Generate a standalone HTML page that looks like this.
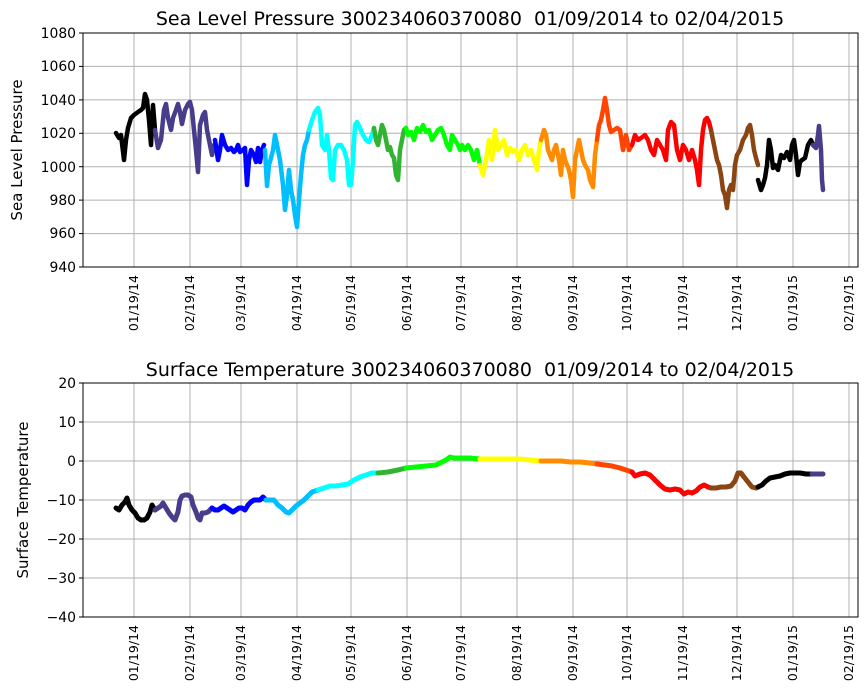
<!DOCTYPE html>
<html><head><meta charset="utf-8"><style>body{margin:0;background:#fff}svg{display:block}text{font-family:"DejaVu Sans","Liberation Sans",sans-serif;fill:#000}</style></head>
<body>
<svg width="868" height="700" viewBox="0 0 868 700" xmlns="http://www.w3.org/2000/svg">
<g stroke="#b0b0b0" stroke-width="1">
<line x1="83" x2="858" y1="66.4" y2="66.4"/><line x1="83" x2="858" y1="99.9" y2="99.9"/><line x1="83" x2="858" y1="133.3" y2="133.3"/><line x1="83" x2="858" y1="166.7" y2="166.7"/><line x1="83" x2="858" y1="200.1" y2="200.1"/><line x1="83" x2="858" y1="233.6" y2="233.6"/>
<line x1="83" x2="858" y1="422" y2="422"/><line x1="83" x2="858" y1="461" y2="461"/><line x1="83" x2="858" y1="500" y2="500"/><line x1="83" x2="858" y1="539" y2="539"/><line x1="83" x2="858" y1="578" y2="578"/>
</g>
<g stroke="#b0b0b0" stroke-width="1">
<line x1="134" x2="134" y1="33" y2="267"/><line x1="190" x2="190" y1="33" y2="267"/><line x1="241" x2="241" y1="33" y2="267"/><line x1="297" x2="297" y1="33" y2="267"/><line x1="351" x2="351" y1="33" y2="267"/><line x1="407" x2="407" y1="33" y2="267"/><line x1="461" x2="461" y1="33" y2="267"/><line x1="517" x2="517" y1="33" y2="267"/><line x1="573" x2="573" y1="33" y2="267"/><line x1="627" x2="627" y1="33" y2="267"/><line x1="683" x2="683" y1="33" y2="267"/><line x1="737" x2="737" y1="33" y2="267"/><line x1="793" x2="793" y1="33" y2="267"/><line x1="849" x2="849" y1="33" y2="267"/>
<line x1="134" x2="134" y1="383" y2="617"/><line x1="190" x2="190" y1="383" y2="617"/><line x1="241" x2="241" y1="383" y2="617"/><line x1="297" x2="297" y1="383" y2="617"/><line x1="351" x2="351" y1="383" y2="617"/><line x1="407" x2="407" y1="383" y2="617"/><line x1="461" x2="461" y1="383" y2="617"/><line x1="517" x2="517" y1="383" y2="617"/><line x1="573" x2="573" y1="383" y2="617"/><line x1="627" x2="627" y1="383" y2="617"/><line x1="683" x2="683" y1="383" y2="617"/><line x1="737" x2="737" y1="383" y2="617"/><line x1="793" x2="793" y1="383" y2="617"/><line x1="849" x2="849" y1="383" y2="617"/>
</g>
<g fill="none" stroke-width="4.5" stroke-linejoin="round" stroke-linecap="round">
<polyline stroke="#000" points="116,133 119,138 121,135 124,160 126,140 128,128 131,118 134,115 138,112 141,110 143,108 145,94 147,100 149,120 151,145 153,105 155,130"/>
<polyline stroke="#483d8b" points="155,130 158,148 161,140 164,110 166,104 168,118 171,130 173,118 176,110 178,104 180,112 182,124 185,110 188,104 190,102 192,110 194,130 196,150 198,172 200,125 203,115 205,112 207,130 209,140 212,155 214,145"/>
<polyline stroke="#0000ff" points="215,140 218,160 220,150 222,135 225,145 228,150 231,148 234,152 236,150 238,145 240,152 243,150 245,148 247,185 249,160 251,150 254,155 256,162 258,148 260,162 262,150 264,145"/>
<polyline stroke="#00bfff" points="265,150 267,186 269,165 271,158 273,150 275,135 277,145 280,160 283,185 285,210 287,195 289,170 291,190 293,200 295,215 297,227 299,200 301,175 303,155 305,145 307,140 309,130"/>
<polyline stroke="#00ffff" points="309,130 312,120 315,112 318,108 320,115 322,145 325,150 327,135 329,150 331,178 333,180 335,150 338,145 341,145 344,150 347,160 349,185 351,185 353,160 355,125 357,122 360,128 363,135 366,140 369,142 372,135 374,128"/>
<polyline stroke="#32b432" points="374,128 376,140 378,145 380,135 382,125 384,130 386,140 388,150 390,147 392,155 394,158 396,175 398,180 400,150 402,140 404,130 406,128"/>
<polyline stroke="#00ff00" points="406,128 408,135 411,132 414,140 417,128 420,132 423,125 426,132 429,130 432,140 435,135 438,130 441,128 444,135 447,145 450,150 452,135 455,140 458,145 460,150 462,145 465,150 468,145 471,150 474,160 477,150 480,165"/>
<polyline stroke="#ffff00" points="480,165 483,175 486,160 489,140 492,160 495,130 498,150 501,145 504,140 507,155 510,148 513,152 516,150 519,160 522,150 525,145 528,155 531,150 534,160 537,170 539,150 541,140"/>
<polyline stroke="#ff8c00" points="541,140 544,130 546,135 548,150 550,155 552,160 554,150 556,145 559,160 561,175 563,150 565,160 567,165 569,170 571,180 573,197 575,160 577,150 579,140 581,150 583,160 585,165 588,170 590,180 593,187 595,155 597,140"/>
<polyline stroke="#ff4500" points="597,140 599,125 601,120 603,110 605,98 607,110 609,125 611,132 614,130 617,128 620,130 623,150 626,135 629,150 632,145"/>
<polyline stroke="#ff0000" points="632,145 635,135 638,140 641,138 645,135 648,140 651,150 654,155 657,140 660,145 663,150 666,160 668,130 671,122 674,125 677,150 680,160 683,145 686,150 689,160 692,150 695,160 697,170 699,185 701,150 703,130 705,120 707,118 709,122 711,130"/>
<polyline stroke="#8b4513" points="711,130 713,140 715,150 717,160 719,165 721,175 723,190 725,195 727,208 729,190 731,185 733,190 735,165 737,155 740,150 743,140 746,135 748,128 750,125 752,135 754,150 756,158 758,165"/>
<polyline stroke="#000" points="758,180 761,190 763,185 765,178 767,165 769,140 771,150 773,168 775,165 778,170 781,155 784,158 787,152 790,160 792,145 794,140 796,155 798,175 800,162 802,160 805,158 808,145 811,140 813,145"/>
<polyline stroke="#483d8b" points="813,145 816,148 818,135 819,126 821,150 822,180 823,190"/>
</g>
<g fill="none" stroke-width="5" stroke-linejoin="round" stroke-linecap="round">
<polyline stroke="#000" points="116,508 119,510 122,505 125,502 127,498 129,505 132,510 135,513 138,518 141,520 144,520 147,518 150,512 152,505 155,510"/>
<polyline stroke="#483d8b" points="155,510 158,508 161,506 163,503 166,508 169,513 172,517 175,520 178,512 180,500 182,496 185,495 188,495 191,497 193,505 196,512 198,518 200,520 202,513 205,513 208,512 212,508"/>
<polyline stroke="#0000ff" points="212,508 215,510 218,510 221,508 224,506 227,508 230,510 233,512 236,510 239,508 242,508 245,510 248,505 251,502 254,500 257,500 260,500 263,497 266,500"/>
<polyline stroke="#00bfff" points="266,500 270,500 274,500 278,505 282,508 286,512 289,513 292,510 296,506 300,503 304,500 308,496 312,492 318,490"/>
<polyline stroke="#00ffff" points="318,490 324,488 330,486 336,486 342,485 348,484 354,480 360,477 366,475 372,473 378,473"/>
<polyline stroke="#32b432" points="378,473 388,472 398,470 406,468"/>
<polyline stroke="#00ff00" points="406,468 416,467 426,466 436,465 442,462 446,460 450,457 454,458 460,458 470,458 480,459"/>
<polyline stroke="#ffff00" points="480,459 490,459 500,459 510,459 520,459 530,460 541,461"/>
<polyline stroke="#ff8c00" points="541,461 551,461 561,461 571,462 580,462 590,463 597,464"/>
<polyline stroke="#ff4500" points="597,464 605,465 612,466 620,468 626,470 632,472"/>
<polyline stroke="#ff0000" points="632,472 635,476 640,474 645,473 650,475 655,480 660,485 665,489 670,490 675,489 680,490 684,494 688,492 692,493 696,491 700,487 704,485 708,487 711,488"/>
<polyline stroke="#8b4513" points="711,488 716,488 721,487 726,487 731,486 735,481 738,473 741,473 744,477 748,482 752,487 756,488 758,487"/>
<polyline stroke="#000" points="758,487 762,485 766,481 770,478 775,477 780,476 785,474 790,473 795,473 800,473 806,474 812,474"/>
<polyline stroke="#483d8b" points="812,474 818,474 823,474"/>
</g>
<g fill="none" stroke="#000" stroke-width="1">
<rect x="83" y="33" width="775" height="234"/>
<rect x="83" y="383" width="775" height="234"/>
</g>
<g stroke="#000" stroke-width="1">
<line x1="79" x2="83" y1="33" y2="33"/><line x1="79" x2="83" y1="66.4" y2="66.4"/><line x1="79" x2="83" y1="99.9" y2="99.9"/><line x1="79" x2="83" y1="133.3" y2="133.3"/><line x1="79" x2="83" y1="166.7" y2="166.7"/><line x1="79" x2="83" y1="200.1" y2="200.1"/><line x1="79" x2="83" y1="233.6" y2="233.6"/><line x1="79" x2="83" y1="267" y2="267"/>
<line x1="79" x2="83" y1="383" y2="383"/><line x1="79" x2="83" y1="422" y2="422"/><line x1="79" x2="83" y1="461" y2="461"/><line x1="79" x2="83" y1="500" y2="500"/><line x1="79" x2="83" y1="539" y2="539"/><line x1="79" x2="83" y1="578" y2="578"/><line x1="79" x2="83" y1="617" y2="617"/>
</g>
<g font-size="13.9" text-anchor="end">
<text x="76" y="38">1080</text><text x="76" y="71">1060</text><text x="76" y="105">1040</text><text x="76" y="138">1020</text><text x="76" y="172">1000</text><text x="76" y="205">980</text><text x="76" y="238">960</text><text x="76" y="272">940</text>
<text x="76" y="388">20</text><text x="76" y="427">10</text><text x="76" y="466">0</text><text x="76" y="505">−10</text><text x="76" y="544">−20</text><text x="76" y="583">−30</text><text x="76" y="622">−40</text>
</g>
<g font-size="19" text-anchor="middle">
<text x="470" y="25">Sea Level Pressure 300234060370080&#160; 01/09/2014 to 02/04/2015</text>
<text x="470" y="376">Surface Temperature 300234060370080&#160; 01/09/2014 to 02/04/2015</text>
</g>
<text font-size="15" text-anchor="middle" transform="translate(22,150) rotate(-90)">Sea Level Pressure</text>
<text font-size="15" text-anchor="middle" transform="translate(28,500) rotate(-90)">Surface Temperature</text>
<g font-size="12.5" text-anchor="end">
<text transform="translate(138,275) rotate(-90)">01/19/14</text><text transform="translate(194,275) rotate(-90)">02/19/14</text><text transform="translate(245,275) rotate(-90)">03/19/14</text><text transform="translate(301,275) rotate(-90)">04/19/14</text><text transform="translate(355,275) rotate(-90)">05/19/14</text><text transform="translate(411,275) rotate(-90)">06/19/14</text><text transform="translate(465,275) rotate(-90)">07/19/14</text><text transform="translate(521,275) rotate(-90)">08/19/14</text><text transform="translate(577,275) rotate(-90)">09/19/14</text><text transform="translate(631,275) rotate(-90)">10/19/14</text><text transform="translate(687,275) rotate(-90)">11/19/14</text><text transform="translate(741,275) rotate(-90)">12/19/14</text><text transform="translate(797,275) rotate(-90)">01/19/15</text><text transform="translate(853,275) rotate(-90)">02/19/15</text>
<text transform="translate(138,625) rotate(-90)">01/19/14</text><text transform="translate(194,625) rotate(-90)">02/19/14</text><text transform="translate(245,625) rotate(-90)">03/19/14</text><text transform="translate(301,625) rotate(-90)">04/19/14</text><text transform="translate(355,625) rotate(-90)">05/19/14</text><text transform="translate(411,625) rotate(-90)">06/19/14</text><text transform="translate(465,625) rotate(-90)">07/19/14</text><text transform="translate(521,625) rotate(-90)">08/19/14</text><text transform="translate(577,625) rotate(-90)">09/19/14</text><text transform="translate(631,625) rotate(-90)">10/19/14</text><text transform="translate(687,625) rotate(-90)">11/19/14</text><text transform="translate(741,625) rotate(-90)">12/19/14</text><text transform="translate(797,625) rotate(-90)">01/19/15</text><text transform="translate(853,625) rotate(-90)">02/19/15</text>
</g>
</svg>
</body></html>
